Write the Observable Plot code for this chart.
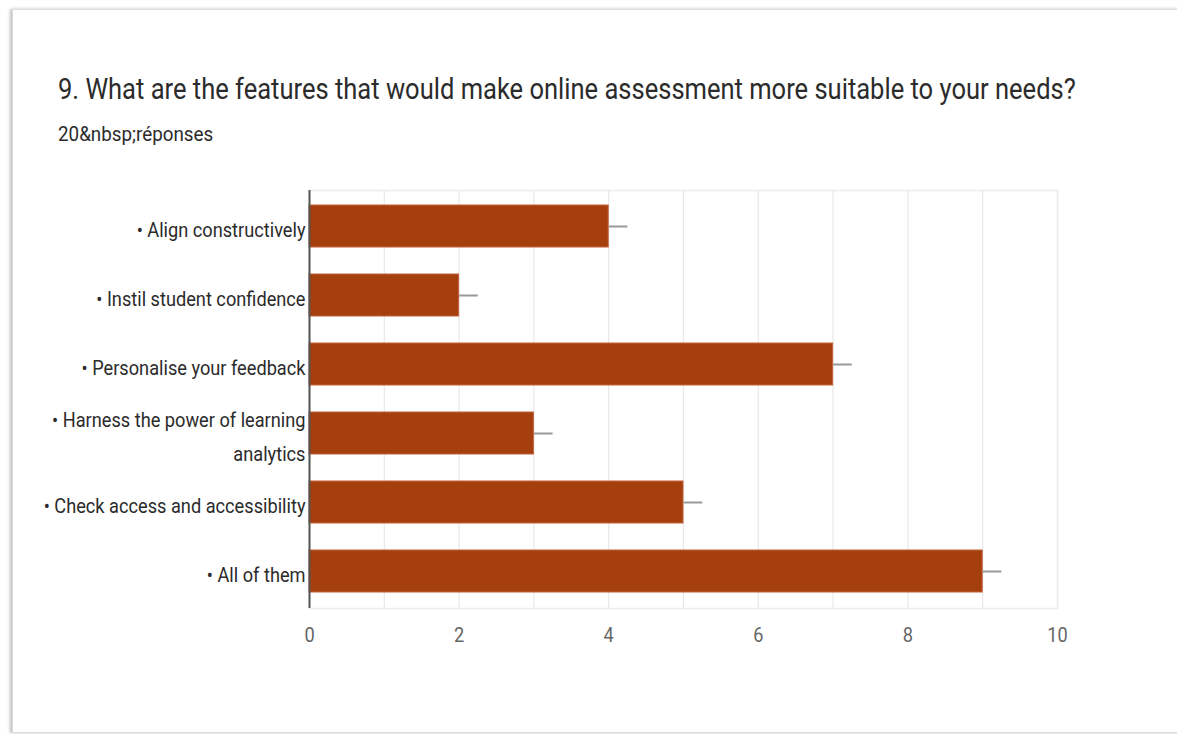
<!DOCTYPE html>
<html>
<head>
<meta charset="utf-8">
<script src="https://cdn.jsdelivr.net/npm/d3@7"></script>
<script src="https://cdn.jsdelivr.net/npm/@observablehq/plot@0.6"></script>
<style>
  html, body { margin: 0; padding: 0; background: #fff; width: 1177px; height: 734px; overflow: hidden; }
  #card { position: absolute; left: 12px; top: 9px; width: 1175px; height: 722px; border: 1px solid #dcdcdc; box-shadow: -2px 0 3px rgba(0,0,0,0.25); background: #fff; }
  #title { position: absolute; left: 58px; top: 72px; font-family: Roboto, sans-serif; font-size: 29px; color: #2b2b2b; white-space: nowrap; transform: scaleX(0.88); transform-origin: 0 0; }
  #subtitle { position: absolute; left: 58px; top: 122px; font-family: Roboto, sans-serif; font-size: 20px; color: #2b2b2b; white-space: nowrap; transform: scaleX(0.94); transform-origin: 0 0; }
  #chart { position: absolute; left: 0; top: 170px; }
</style>
</head>
<body>
<div id="card"></div>
<div id="title">9. What are the features that would make online assessment more suitable to your needs?</div>
<div id="subtitle">20&amp;nbsp;réponses</div>
<div id="chart"></div>
<script>
const categories = [
  "• Align constructively",
  "• Instil student confidence",
  "• Personalise your feedback",
  "• Harness the power of learning\nanalytics",
  "• Check access and accessibility",
  "• All of them"
];
const counts = [4, 2, 7, 3, 5, 9];
const xTicks = [0, 2, 4, 6, 8, 10];
const gridTicks = [0, 1, 2, 3, 4, 5, 6, 7, 8, 9, 10];
const whisker = 0.25;

const data = categories.map((c, i) => ({category: c, value: counts[i]}));

const chart = Plot.plot({
  width: 1177,
  height: 500,
  marginLeft: 309,
  marginRight: 120,
  marginTop: 20,
  marginBottom: 62,
  style: {fontFamily: "Roboto, sans-serif", fontSize: "20px", color: "#222", background: "transparent"},
  x: {domain: [0, 10], ticks: xTicks, label: null},
  y: {domain: categories, paddingInner: 0.39, paddingOuter: 0.22, label: null},
  marks: [
    Plot.frame({stroke: "#ececec", strokeWidth: 1.5}),
    Plot.gridX(gridTicks, {stroke: "#e8e8e8", strokeOpacity: 1, strokeWidth: 1.2}),
    Plot.barX(data, {x: "value", y: "category", fill: "#a63f0e", stroke: "#c0623a", strokeWidth: 1}),
    Plot.link(data, {x1: "value", x2: d => d.value + whisker, y1: "category", y2: "category", stroke: "#999", strokeWidth: 2}),
    Plot.ruleX([0], {stroke: "#555", strokeWidth: 2}),
    Plot.axisX({ticks: xTicks, tickSize: 0, tickPadding: 19, fontSize: 20, fill: "#666", label: null}),
    Plot.axisY({tickSize: 0, tickPadding: 4, fontSize: 20, fill: "#2b2b2b", lineHeight: 1.7, label: null})
  ]
});
// horizontally condense axis text to match the reference's narrow lettering
chart.querySelectorAll("g[aria-label='x-axis tick label'] text, g[aria-label='y-axis tick label'] text").forEach(t => {
  let tr = t.getAttribute("transform");
  if (!tr) {
    const x = t.getAttribute("x") || 0, y = t.getAttribute("y") || 0;
    t.removeAttribute("x"); t.removeAttribute("y");
    tr = `translate(${x},${y})`;
  }
  t.setAttribute("transform", tr + " scale(0.91,1)");
});
document.getElementById("chart").appendChild(chart);
</script>
</body>
</html>
